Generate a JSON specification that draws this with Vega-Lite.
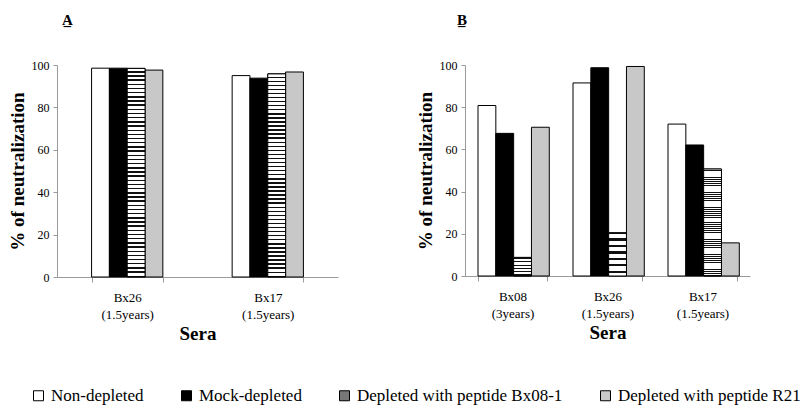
{
  "$schema": "https://vega.github.io/schema/vega-lite/v6.json",
  "background": "white",
  "padding": {"left": 8, "top": 13, "right": 5, "bottom": 5},
  "datasets": {
    "A": [
      {"sera": "Bx26 (1.5years)", "treatment": "Non-depleted", "value": 98.5},
      {"sera": "Bx26 (1.5years)", "treatment": "Mock-depleted", "value": 98.5},
      {"sera": "Bx26 (1.5years)", "treatment": "Depleted with peptide Bx08-1", "value": 98.4},
      {"sera": "Bx26 (1.5years)", "treatment": "Depleted with peptide R21", "value": 97.6},
      {"sera": "Bx17 (1.5years)", "treatment": "Non-depleted", "value": 95.0},
      {"sera": "Bx17 (1.5years)", "treatment": "Mock-depleted", "value": 93.8},
      {"sera": "Bx17 (1.5years)", "treatment": "Depleted with peptide Bx08-1", "value": 95.8},
      {"sera": "Bx17 (1.5years)", "treatment": "Depleted with peptide R21", "value": 96.7}
    ],
    "B": [
      {"sera": "Bx08 (3years)", "treatment": "Non-depleted", "value": 80.8},
      {"sera": "Bx08 (3years)", "treatment": "Mock-depleted", "value": 67.6},
      {"sera": "Bx08 (3years)", "treatment": "Depleted with peptide Bx08-1", "value": 8.8},
      {"sera": "Bx08 (3years)", "treatment": "Depleted with peptide R21", "value": 70.5},
      {"sera": "Bx26 (1.5years)", "treatment": "Non-depleted", "value": 91.5},
      {"sera": "Bx26 (1.5years)", "treatment": "Mock-depleted", "value": 98.7},
      {"sera": "Bx26 (1.5years)", "treatment": "Depleted with peptide Bx08-1", "value": 20.5},
      {"sera": "Bx26 (1.5years)", "treatment": "Depleted with peptide R21", "value": 99.3},
      {"sera": "Bx17 (1.5years)", "treatment": "Non-depleted", "value": 72.0},
      {"sera": "Bx17 (1.5years)", "treatment": "Mock-depleted", "value": 62.1},
      {"sera": "Bx17 (1.5years)", "treatment": "Depleted with peptide Bx08-1", "value": 50.7},
      {"sera": "Bx17 (1.5years)", "treatment": "Depleted with peptide R21", "value": 15.7}
    ]
  },
  "spacing": 78,
  "hconcat": [
    {
      "data": {"name": "A"},
      "width": 281,
      "height": 212,
      "title": {"text": "A̲", "anchor": "start", "dx": 5, "offset": 31},
      "encoding": {
        "x": {"field": "sera", "type": "nominal", "sort": null, "title": "Sera",
              "scale": {"paddingInner": 0.493, "paddingOuter": 0.246},
              "axis": {"labelExpr": "split(datum.label, ' ')"}},
        "xOffset": {"field": "treatment", "type": "nominal",
                    "scale": {"domain": ["Non-depleted", "Mock-depleted", "Depleted with peptide Bx08-1", "Depleted with peptide R21"]}},
        "y": {"field": "value", "type": "quantitative", "title": "% of neutralization",
              "scale": {"domain": [0, 100], "nice": false}}
      },
      "layer": [
        {
          "mark": {"type": "bar", "stroke": "black", "strokeWidth": 1},
          "encoding": {
            "fill": {"field": "treatment", "type": "nominal",
                     "scale": {"domain": ["Non-depleted", "Mock-depleted", "Depleted with peptide Bx08-1", "Depleted with peptide R21"],
                               "range": ["#ffffff", "#000000", "#777777", "#c8c8c8"]},
                     "legend": {"title": null, "orient": "none", "legendX": -27, "legendY": 322, "direction": "horizontal"}}
          }
        },
        {
          "transform": [{"filter": "datum.treatment === 'Depleted with peptide Bx08-1'"}],
          "mark": {"type": "bar", "stroke": "black", "strokeWidth": 1}
        }
      ]
    },
    {
      "data": {"name": "B"},
      "width": 285,
      "height": 211,
      "title": {"text": "B̲", "anchor": "start", "dx": -8, "offset": 31},
      "encoding": {
        "x": {"field": "sera", "type": "nominal", "sort": null, "title": "Sera",
              "scale": {"paddingInner": 0.274, "paddingOuter": 0.137},
              "axis": {"labelExpr": "split(datum.label, ' ')"}},
        "xOffset": {"field": "treatment", "type": "nominal",
                    "scale": {"domain": ["Non-depleted", "Mock-depleted", "Depleted with peptide Bx08-1", "Depleted with peptide R21"]}},
        "y": {"field": "value", "type": "quantitative", "title": "% of neutralization",
              "scale": {"domain": [0, 100], "nice": false}}
      },
      "layer": [
        {
          "mark": {"type": "bar", "stroke": "black", "strokeWidth": 1},
          "encoding": {
            "fill": {"field": "treatment", "type": "nominal",
                     "scale": {"domain": ["Non-depleted", "Mock-depleted", "Depleted with peptide Bx08-1", "Depleted with peptide R21"],
                               "range": ["#ffffff", "#000000", "#777777", "#c8c8c8"]},
                     "legend": {"title": null, "orient": "none", "legendX": -27, "legendY": 322, "direction": "horizontal"}}
          }
        },
        {
          "transform": [{"filter": "datum.treatment === 'Depleted with peptide Bx08-1'"}],
          "mark": {"type": "bar", "stroke": "black", "strokeWidth": 1}
        }
      ]
    }
  ],
  "config": {
    "font": "Liberation Serif",
    "view": {"stroke": null},
    "title": {"font": "Liberation Serif", "fontSize": 15, "fontWeight": "bold", "color": "black", "frame": "group"},
    "axis": {
      "labelFont": "Liberation Serif", "titleFont": "Liberation Serif",
      "labelColor": "black", "titleColor": "black",
      "titleFontWeight": "bold", "titleFontSize": 19,
      "domainColor": "#9a9a9a", "tickColor": "#9a9a9a",
      "grid": false, "labelFontSize": 12
    },
    "axisX": {"labelAngle": 0, "tickBand": "extent", "labelFontSize": 13, "labelLineHeight": 17, "labelPadding": 9, "titlePadding": 3, "tickSize": 5},
    "axisY": {"values": [0, 20, 40, 60, 80, 100], "tickSize": 4, "labelPadding": 4, "titlePadding": 4},
    "legend": {
      "symbolType": "square", "symbolSize": 100, "symbolStrokeColor": "black", "symbolStrokeWidth": 1,
      "labelFont": "Liberation Serif", "labelFontSize": 17, "labelColor": "black", "labelLimit": 400,
      "columnPadding": 34, "labelOffset": 4
    },
    "bar": {
      "fill": {
        "gradient": "linear", "x1": 0, "y1": 0, "x2": 0, "y2": 1,
        "stops": [
          {"offset": 0, "color": "#fff"}, {"offset": 0.013, "color": "#fff"}, {"offset": 0.013, "color": "#111"}, {"offset": 0.02, "color": "#111"},
          {"offset": 0.02, "color": "#fff"}, {"offset": 0.033, "color": "#fff"}, {"offset": 0.033, "color": "#111"}, {"offset": 0.04, "color": "#111"},
          {"offset": 0.04, "color": "#fff"}, {"offset": 0.053, "color": "#fff"}, {"offset": 0.053, "color": "#111"}, {"offset": 0.06, "color": "#111"},
          {"offset": 0.06, "color": "#fff"}, {"offset": 0.073, "color": "#fff"}, {"offset": 0.073, "color": "#111"}, {"offset": 0.08, "color": "#111"},
          {"offset": 0.08, "color": "#fff"}, {"offset": 0.093, "color": "#fff"}, {"offset": 0.093, "color": "#111"}, {"offset": 0.10, "color": "#111"},
          {"offset": 0.10, "color": "#fff"}, {"offset": 0.113, "color": "#fff"}, {"offset": 0.113, "color": "#111"}, {"offset": 0.12, "color": "#111"},
          {"offset": 0.12, "color": "#fff"}, {"offset": 0.133, "color": "#fff"}, {"offset": 0.133, "color": "#111"}, {"offset": 0.14, "color": "#111"},
          {"offset": 0.14, "color": "#fff"}, {"offset": 0.153, "color": "#fff"}, {"offset": 0.153, "color": "#111"}, {"offset": 0.16, "color": "#111"},
          {"offset": 0.16, "color": "#fff"}, {"offset": 0.173, "color": "#fff"}, {"offset": 0.173, "color": "#111"}, {"offset": 0.18, "color": "#111"},
          {"offset": 0.18, "color": "#fff"}, {"offset": 0.193, "color": "#fff"}, {"offset": 0.193, "color": "#111"}, {"offset": 0.20, "color": "#111"},
          {"offset": 0.20, "color": "#fff"}, {"offset": 0.213, "color": "#fff"}, {"offset": 0.213, "color": "#111"}, {"offset": 0.22, "color": "#111"},
          {"offset": 0.22, "color": "#fff"}, {"offset": 0.233, "color": "#fff"}, {"offset": 0.233, "color": "#111"}, {"offset": 0.24, "color": "#111"},
          {"offset": 0.24, "color": "#fff"}, {"offset": 0.253, "color": "#fff"}, {"offset": 0.253, "color": "#111"}, {"offset": 0.26, "color": "#111"},
          {"offset": 0.26, "color": "#fff"}, {"offset": 0.273, "color": "#fff"}, {"offset": 0.273, "color": "#111"}, {"offset": 0.28, "color": "#111"},
          {"offset": 0.28, "color": "#fff"}, {"offset": 0.293, "color": "#fff"}, {"offset": 0.293, "color": "#111"}, {"offset": 0.30, "color": "#111"},
          {"offset": 0.30, "color": "#fff"}, {"offset": 0.313, "color": "#fff"}, {"offset": 0.313, "color": "#111"}, {"offset": 0.32, "color": "#111"},
          {"offset": 0.32, "color": "#fff"}, {"offset": 0.333, "color": "#fff"}, {"offset": 0.333, "color": "#111"}, {"offset": 0.34, "color": "#111"},
          {"offset": 0.34, "color": "#fff"}, {"offset": 0.353, "color": "#fff"}, {"offset": 0.353, "color": "#111"}, {"offset": 0.36, "color": "#111"},
          {"offset": 0.36, "color": "#fff"}, {"offset": 0.373, "color": "#fff"}, {"offset": 0.373, "color": "#111"}, {"offset": 0.38, "color": "#111"},
          {"offset": 0.38, "color": "#fff"}, {"offset": 0.393, "color": "#fff"}, {"offset": 0.393, "color": "#111"}, {"offset": 0.40, "color": "#111"},
          {"offset": 0.40, "color": "#fff"}, {"offset": 0.413, "color": "#fff"}, {"offset": 0.413, "color": "#111"}, {"offset": 0.42, "color": "#111"},
          {"offset": 0.42, "color": "#fff"}, {"offset": 0.433, "color": "#fff"}, {"offset": 0.433, "color": "#111"}, {"offset": 0.44, "color": "#111"},
          {"offset": 0.44, "color": "#fff"}, {"offset": 0.453, "color": "#fff"}, {"offset": 0.453, "color": "#111"}, {"offset": 0.46, "color": "#111"},
          {"offset": 0.46, "color": "#fff"}, {"offset": 0.473, "color": "#fff"}, {"offset": 0.473, "color": "#111"}, {"offset": 0.48, "color": "#111"},
          {"offset": 0.48, "color": "#fff"}, {"offset": 0.493, "color": "#fff"}, {"offset": 0.493, "color": "#111"}, {"offset": 0.50, "color": "#111"},
          {"offset": 0.50, "color": "#fff"}, {"offset": 0.513, "color": "#fff"}, {"offset": 0.513, "color": "#111"}, {"offset": 0.52, "color": "#111"},
          {"offset": 0.52, "color": "#fff"}, {"offset": 0.533, "color": "#fff"}, {"offset": 0.533, "color": "#111"}, {"offset": 0.54, "color": "#111"},
          {"offset": 0.54, "color": "#fff"}, {"offset": 0.553, "color": "#fff"}, {"offset": 0.553, "color": "#111"}, {"offset": 0.56, "color": "#111"},
          {"offset": 0.56, "color": "#fff"}, {"offset": 0.573, "color": "#fff"}, {"offset": 0.573, "color": "#111"}, {"offset": 0.58, "color": "#111"},
          {"offset": 0.58, "color": "#fff"}, {"offset": 0.593, "color": "#fff"}, {"offset": 0.593, "color": "#111"}, {"offset": 0.60, "color": "#111"},
          {"offset": 0.60, "color": "#fff"}, {"offset": 0.613, "color": "#fff"}, {"offset": 0.613, "color": "#111"}, {"offset": 0.62, "color": "#111"},
          {"offset": 0.62, "color": "#fff"}, {"offset": 0.633, "color": "#fff"}, {"offset": 0.633, "color": "#111"}, {"offset": 0.64, "color": "#111"},
          {"offset": 0.64, "color": "#fff"}, {"offset": 0.653, "color": "#fff"}, {"offset": 0.653, "color": "#111"}, {"offset": 0.66, "color": "#111"},
          {"offset": 0.66, "color": "#fff"}, {"offset": 0.673, "color": "#fff"}, {"offset": 0.673, "color": "#111"}, {"offset": 0.68, "color": "#111"},
          {"offset": 0.68, "color": "#fff"}, {"offset": 0.693, "color": "#fff"}, {"offset": 0.693, "color": "#111"}, {"offset": 0.70, "color": "#111"},
          {"offset": 0.70, "color": "#fff"}, {"offset": 0.713, "color": "#fff"}, {"offset": 0.713, "color": "#111"}, {"offset": 0.72, "color": "#111"},
          {"offset": 0.72, "color": "#fff"}, {"offset": 0.733, "color": "#fff"}, {"offset": 0.733, "color": "#111"}, {"offset": 0.74, "color": "#111"},
          {"offset": 0.74, "color": "#fff"}, {"offset": 0.753, "color": "#fff"}, {"offset": 0.753, "color": "#111"}, {"offset": 0.76, "color": "#111"},
          {"offset": 0.76, "color": "#fff"}, {"offset": 0.773, "color": "#fff"}, {"offset": 0.773, "color": "#111"}, {"offset": 0.78, "color": "#111"},
          {"offset": 0.78, "color": "#fff"}, {"offset": 0.793, "color": "#fff"}, {"offset": 0.793, "color": "#111"}, {"offset": 0.80, "color": "#111"},
          {"offset": 0.80, "color": "#fff"}, {"offset": 0.813, "color": "#fff"}, {"offset": 0.813, "color": "#111"}, {"offset": 0.82, "color": "#111"},
          {"offset": 0.82, "color": "#fff"}, {"offset": 0.833, "color": "#fff"}, {"offset": 0.833, "color": "#111"}, {"offset": 0.84, "color": "#111"},
          {"offset": 0.84, "color": "#fff"}, {"offset": 0.853, "color": "#fff"}, {"offset": 0.853, "color": "#111"}, {"offset": 0.86, "color": "#111"},
          {"offset": 0.86, "color": "#fff"}, {"offset": 0.873, "color": "#fff"}, {"offset": 0.873, "color": "#111"}, {"offset": 0.88, "color": "#111"},
          {"offset": 0.88, "color": "#fff"}, {"offset": 0.893, "color": "#fff"}, {"offset": 0.893, "color": "#111"}, {"offset": 0.90, "color": "#111"},
          {"offset": 0.90, "color": "#fff"}, {"offset": 0.913, "color": "#fff"}, {"offset": 0.913, "color": "#111"}, {"offset": 0.92, "color": "#111"},
          {"offset": 0.92, "color": "#fff"}, {"offset": 0.933, "color": "#fff"}, {"offset": 0.933, "color": "#111"}, {"offset": 0.94, "color": "#111"},
          {"offset": 0.94, "color": "#fff"}, {"offset": 0.953, "color": "#fff"}, {"offset": 0.953, "color": "#111"}, {"offset": 0.96, "color": "#111"},
          {"offset": 0.96, "color": "#fff"}, {"offset": 0.973, "color": "#fff"}, {"offset": 0.973, "color": "#111"}, {"offset": 0.98, "color": "#111"},
          {"offset": 0.98, "color": "#fff"}, {"offset": 0.993, "color": "#fff"}, {"offset": 0.993, "color": "#111"}, {"offset": 1, "color": "#111"}
        ]
      }
    }
  }
}
